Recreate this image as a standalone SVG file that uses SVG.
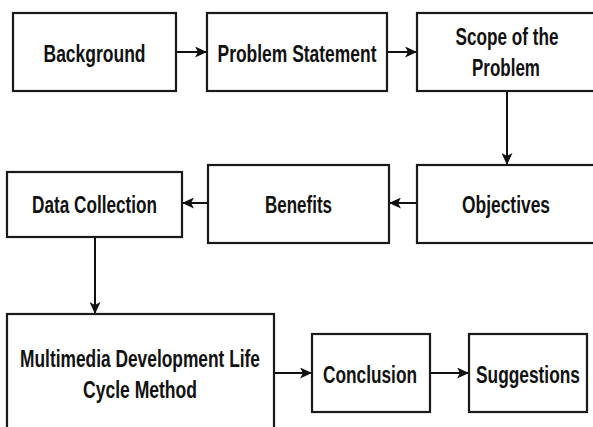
<svg xmlns="http://www.w3.org/2000/svg" width="593" height="427" viewBox="0 0 593 427">
  <style>
    .box { fill: #ffffff; stroke: #1a1a1a; stroke-width: 2.2; }
    .lbl { font-family: "Liberation Sans", Arial, sans-serif; font-weight: bold; font-size: 24px; fill: #111111; text-anchor: middle; }
    .edge { stroke: #111111; stroke-width: 2; fill: none; marker-end: url(#head); }
  </style>
  <defs>
    <marker id="head" markerUnits="userSpaceOnUse" markerWidth="13" markerHeight="11" refX="12" refY="5.5" orient="auto">
      <path d="M0,0 L12,5.5 L0,11 L3,5.5 Z" fill="#111111"/>
    </marker>
  </defs>
  <rect width="593" height="427" fill="#ffffff"/>

  <g id="connectors">
    <line class="edge" x1="176" y1="52" x2="207" y2="52"/>
    <line class="edge" x1="387" y1="52" x2="417" y2="52"/>
    <line class="edge" x1="507" y1="91" x2="507" y2="165"/>
    <line class="edge" x1="417" y1="203" x2="389" y2="203"/>
    <line class="edge" x1="208" y1="203" x2="182" y2="203"/>
    <line class="edge" x1="95" y1="237" x2="95" y2="314"/>
    <line class="edge" x1="274" y1="373" x2="312" y2="373"/>
    <line class="edge" x1="430" y1="373" x2="469" y2="373"/>
  </g>

  <!-- labels are set in a condensed bold face: horizontal scale 0.72 -->
  <g id="background">
    <rect class="box" x="13" y="13" width="163" height="78"/>
    <text class="lbl" transform="translate(94.5 62) scale(0.72 1)" textLength="141.7" lengthAdjust="spacingAndGlyphs">Background</text>
  </g>
  <g id="problem-statement">
    <rect class="box" x="207" y="13" width="180" height="78"/>
    <text class="lbl" transform="translate(297 62) scale(0.72 1)" textLength="220.8" lengthAdjust="spacingAndGlyphs">Problem Statement</text>
  </g>
  <g id="scope">
    <rect class="box" x="417" y="13" width="190" height="78"/>
    <text class="lbl" transform="translate(507 45) scale(0.72 1)" textLength="143.1" lengthAdjust="spacingAndGlyphs">Scope of the</text>
    <text class="lbl" transform="translate(506 76) scale(0.72 1)" textLength="94.4" lengthAdjust="spacingAndGlyphs">Problem</text>
  </g>
  <g id="objectives">
    <rect class="box" x="417" y="165" width="190" height="78"/>
    <text class="lbl" transform="translate(506 213) scale(0.72 1)" textLength="122.2" lengthAdjust="spacingAndGlyphs">Objectives</text>
  </g>
  <g id="benefits">
    <rect class="box" x="208" y="165" width="181" height="78"/>
    <text class="lbl" transform="translate(298.5 213) scale(0.72 1)" textLength="93.1" lengthAdjust="spacingAndGlyphs">Benefits</text>
  </g>
  <g id="data-collection">
    <rect class="box" x="7" y="172" width="175" height="65"/>
    <text class="lbl" transform="translate(94.5 213) scale(0.72 1)" textLength="173.6" lengthAdjust="spacingAndGlyphs">Data Collection</text>
  </g>
  <g id="mdlc">
    <rect class="box" x="7" y="314" width="267" height="130"/>
    <text class="lbl" transform="translate(140 367) scale(0.72 1)" textLength="333.3" lengthAdjust="spacingAndGlyphs">Multimedia Development Life</text>
    <text class="lbl" transform="translate(140 398) scale(0.72 1)" textLength="158.3" lengthAdjust="spacingAndGlyphs">Cycle Method</text>
  </g>
  <g id="conclusion">
    <rect class="box" x="312" y="334" width="118" height="78"/>
    <text class="lbl" transform="translate(370 383) scale(0.72 1)" textLength="130.6" lengthAdjust="spacingAndGlyphs">Conclusion</text>
  </g>
  <g id="suggestions">
    <rect class="box" x="469" y="334" width="118" height="78"/>
    <text class="lbl" transform="translate(528 383) scale(0.72 1)" textLength="144.4" lengthAdjust="spacingAndGlyphs">Suggestions</text>
  </g>
</svg>
